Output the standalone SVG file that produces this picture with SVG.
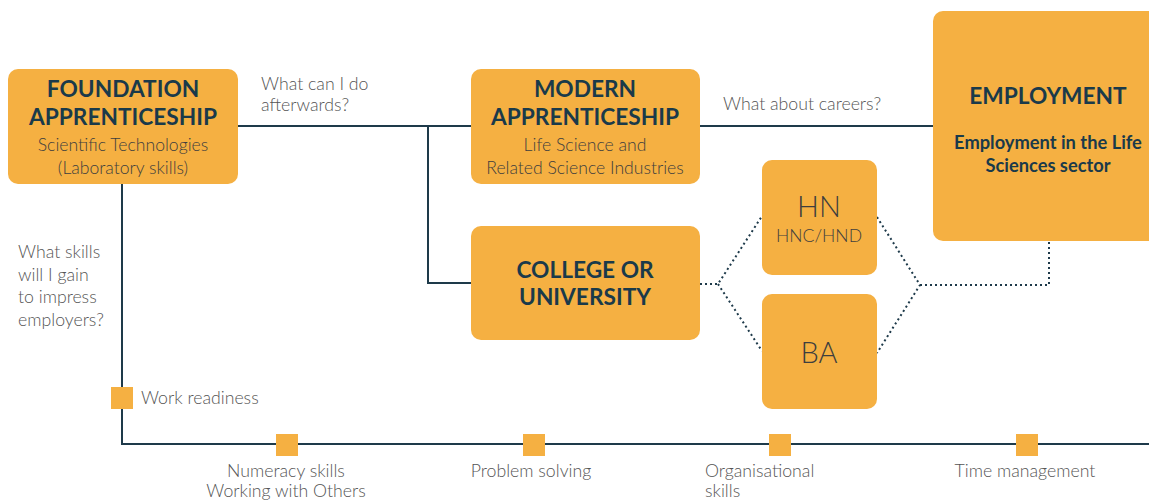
<svg xmlns="http://www.w3.org/2000/svg" width="1149" height="500" viewBox="0 0 1149 500">
<style>
.box{fill:#F5B042}
.t{font-family:Lato,"Open Sans",sans-serif;text-anchor:middle}
.h{font-weight:700;font-size:22.7px;fill:#1A3A4A}
.s{font-weight:300;font-size:17.6px;fill:#3E3E3E}
.q{font-family:Lato,"Open Sans",sans-serif;font-weight:300;font-size:17.7px;fill:#555}
.line{stroke:#1E3A4A;stroke-width:2;fill:none}
.dot{stroke:#1E3A4A;stroke-width:2;fill:none;stroke-dasharray:2 3}
.sq{fill:#F5B042}
</style>
<rect width="1149" height="500" fill="#fff"/>
<g id="connectors">
<path class="line" d="M238 126H471M700 126H933M428 126V283H471M122 184V444H1149"/>
<path class="dot" d="M700 284H718L762 216M718 284L762 351M877 217L920 285L877 353M920 285H1049V241"/>
</g>
<g id="foundation">
<rect class="box" x="8" y="69" width="230" height="115" rx="10"/>
<text class="t h" x="123" y="97">FOUNDATION</text>
<text class="t h" x="123" y="125">APPRENTICESHIP</text>
<text class="t s" x="123" y="151">Scientific Technologies</text>
<text class="t s" x="123" y="174">(Laboratory skills)</text>
</g>
<g id="modern">
<rect class="box" x="471" y="69" width="229" height="115" rx="10"/>
<text class="t h" x="585" y="97">MODERN</text>
<text class="t h" x="585" y="125">APPRENTICESHIP</text>
<text class="t s" x="585" y="151">Life Science and</text>
<text class="t s" x="585" y="174">Related Science Industries</text>
</g>
<g id="employment">
<rect class="box" x="933" y="11" width="230" height="230" rx="10"/>
<text class="t h" x="1048" y="104">EMPLOYMENT</text>
<text class="t" x="1048" y="149" font-weight="700" font-size="18.3" fill="#1A3A4A">Employment in the Life</text>
<text class="t" x="1048" y="172" font-weight="700" font-size="18.3" fill="#1A3A4A">Sciences sector</text>
</g>
<g id="college">
<rect class="box" x="471" y="226" width="229" height="114" rx="10"/>
<text class="t h" x="585" y="278">COLLEGE OR</text>
<text class="t h" x="585" y="305">UNIVERSITY</text>
</g>
<g id="hn">
<rect class="box" x="762" y="160" width="115" height="115" rx="10"/>
<text class="t" x="819" y="217" font-weight="300" font-size="29" fill="#3E3E3E">HN</text>
<text class="t s" x="819" y="242">HNC/HND</text>
</g>
<g id="ba">
<rect class="box" x="762" y="294" width="115" height="115" rx="10"/>
<text class="t" x="819" y="363" font-weight="300" font-size="29" fill="#3E3E3E">BA</text>
</g>
<g id="labels">
<text class="q" x="261" y="90">What can I do</text>
<text class="q" x="261" y="111">afterwards?</text>
<text class="q" x="723" y="110">What about careers?</text>
<text class="q" x="18" y="258">What skills</text>
<text class="q" x="18" y="281">will I gain</text>
<text class="q" x="18" y="303">to impress</text>
<text class="q" x="18" y="326">employers?</text>
</g>
<g id="skills">
<rect class="sq" x="111" y="387" width="22" height="22"/>
<text class="q" x="141" y="404" font-size="18.5">Work readiness</text>
<rect class="sq" x="276" y="434" width="22" height="22"/>
<text class="q" x="286" y="477" text-anchor="middle">Numeracy skills</text>
<text class="q" x="286" y="497" text-anchor="middle">Working with Others</text>
<rect class="sq" x="523" y="434" width="22" height="22"/>
<text class="q" x="531" y="477" text-anchor="middle">Problem solving</text>
<rect class="sq" x="769" y="434" width="22" height="22"/>
<text class="q" x="705" y="477">Organisational</text>
<text class="q" x="705" y="497">skills</text>
<rect class="sq" x="1016" y="434" width="22" height="22"/>
<text class="q" x="1025" y="477" text-anchor="middle">Time management</text>
</g>
</svg>
